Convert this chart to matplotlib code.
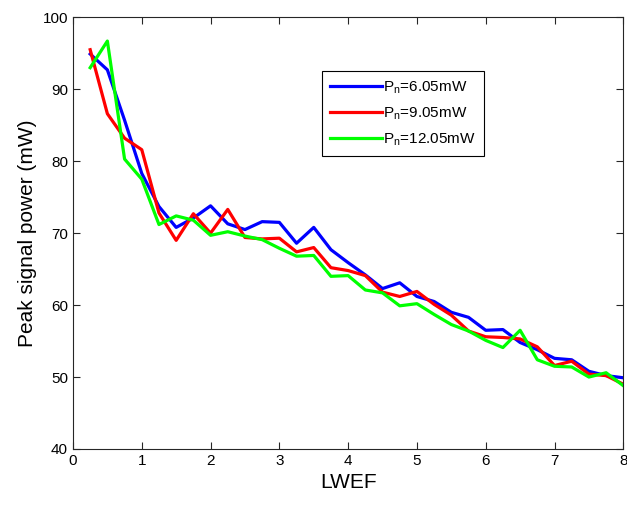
import matplotlib

matplotlib.use("Agg")

import matplotlib.pyplot as plt
import numpy as np

lwef = np.arange(0.25, 8.01, 0.25)

p_6_05 = [94.9, 92.7, 85.7, 78.3, 73.7, 70.8, 72.1, 73.8, 71.3, 70.5,
          71.6, 71.5, 68.6, 70.8, 67.7, 65.9, 64.2, 62.3, 63.1, 61.2,
          60.5, 59.0, 58.3, 56.5, 56.6, 54.8, 53.8, 52.6, 52.4, 50.8,
          50.2, 49.9]
p_9_05 = [95.5, 86.6, 83.2, 81.6, 72.8, 69.0, 72.7, 70.0, 73.3, 69.4,
          69.2, 69.3, 67.4, 68.0, 65.2, 64.8, 64.1, 61.8, 61.2, 61.9,
          60.1, 58.6, 56.4, 55.6, 55.5, 55.3, 54.2, 51.6, 52.2, 50.4,
          50.2, 49.0]
p_12_05 = [93.0, 96.7, 80.3, 77.5, 71.2, 72.4, 71.8, 69.7, 70.2, 69.6,
           69.1, 67.9, 66.8, 66.9, 64.0, 64.1, 62.1, 61.7, 59.9, 60.2,
           58.7, 57.3, 56.4, 55.1, 54.1, 56.5, 52.4, 51.5, 51.4, 50.0,
           50.6, 48.8]

labels = ["P$_\\mathregular{n}$=6.05mW", "P$_\\mathregular{n}$=9.05mW",
          "P$_\\mathregular{n}$=12.05mW"]
colors = ["#0000ff", "#ff0000", "#00ff00"]

plt.rcParams["font.family"] = ["Liberation Sans", "DejaVu Sans"]
plt.rcParams["mathtext.fontset"] = "custom"
plt.rcParams["mathtext.rm"] = "Liberation Sans"

fig = plt.figure(figsize=(6.27, 5.05), dpi=100)
ax = fig.add_axes([0.1164, 0.1109, 0.8777, 0.8548])

for series, label, color in zip([p_6_05, p_9_05, p_12_05], labels, colors):
    ax.plot(lwef, series, color=color, lw=2.3, label=label)

ax.set_xlim(0, 8)
ax.set_ylim(40, 100)
ax.set_xticks(range(0, 9))
ax.set_yticks(range(40, 101, 10))
ax.tick_params(direction="in", length=5, labelsize=11, top=True, right=True,
               color="#262626")
for s in ax.spines.values():
    s.set_color("#262626")
    s.set_linewidth(0.8)
ax.set_xlabel("LWEF", fontsize=15)
ax.set_ylabel("Peak signal power (mW)", fontsize=15)

leg = ax.legend(loc="upper left", bbox_to_anchor=(0.453, 0.875),
                borderaxespad=0, fontsize=11, handlelength=3.4,
                handletextpad=0.1, fancybox=False, framealpha=1,
                edgecolor="black", labelspacing=0.62, borderpad=0.5)
leg.get_frame().set_linewidth(0.8)

fig.savefig("out.png", dpi=100)
